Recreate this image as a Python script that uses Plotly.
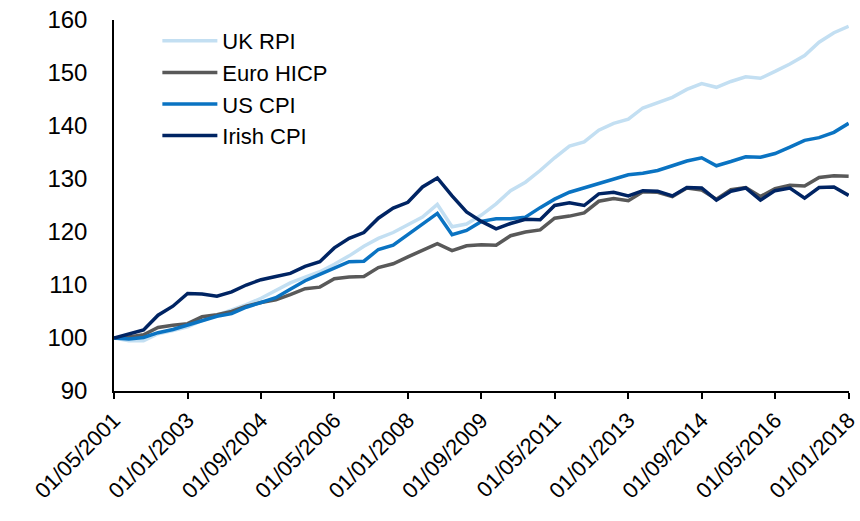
import pandas as pd
import plotly.graph_objects as go

# one reading every 4 months, May 2001 - Jan 2018
dates = pd.date_range("2001-05-01", "2018-01-01", freq="4MS")

uk_rpi = [100.0, 99.5, 99.5, 100.8, 101.4, 102.1, 103.3, 104.3, 105.2, 106.3,
          107.5, 109.0, 110.4, 111.5, 112.5, 113.9, 115.5, 117.3, 118.8, 119.9,
          121.4, 122.8, 125.2, 121.0, 121.5, 123.2, 125.3, 127.8, 129.4, 131.6,
          134.0, 136.2, 137.0, 139.2, 140.5, 141.3, 143.4, 144.4, 145.4, 146.9,
          148.0, 147.3, 148.4, 149.3, 149.0, 150.3, 151.7, 153.3, 155.8, 157.6,
          158.8]
euro_hicp = [100.0, 100.2, 100.6, 102.0, 102.4, 102.7, 104.0, 104.4, 105.0, 106.0,
             106.7, 107.2, 108.2, 109.3, 109.6, 111.2, 111.5, 111.6, 113.3, 114.0,
             115.3, 116.6, 117.8, 116.5, 117.4, 117.6, 117.5, 119.3, 120.0, 120.4,
             122.6, 123.0, 123.6, 125.8, 126.3, 125.9, 127.6, 127.5, 126.7, 128.3,
             127.9, 126.2, 128.0, 128.4, 126.7, 128.2, 128.8, 128.7, 130.3, 130.6,
             130.5]
us_cpi = [100.0, 99.8, 100.1, 101.0, 101.6, 102.4, 103.2, 104.1, 104.6, 105.8,
          106.7, 107.6, 109.2, 110.8, 112.0, 113.1, 114.4, 114.5, 116.7, 117.5,
          119.5, 121.6, 123.5, 119.5, 120.3, 122.0, 122.5, 122.5, 122.8, 124.6,
          126.2, 127.5, 128.3, 129.1, 130.0, 130.8, 131.1, 131.6, 132.5, 133.4,
          134.0, 132.5, 133.3, 134.2, 134.1, 134.8, 136.0, 137.3, 137.8, 138.8,
          140.5]
irish_cpi = [100.0, 100.8, 101.5, 104.3, 106.0, 108.4, 108.3, 107.9, 108.7, 110.0,
             111.0, 111.6, 112.2, 113.5, 114.4, 117.0, 118.8, 119.9, 122.6, 124.5,
             125.6, 128.5, 130.2, 126.8, 123.8, 122.0, 120.6, 121.6, 122.4, 122.3,
             125.0, 125.5, 125.0, 127.2, 127.5, 126.8, 127.8, 127.7, 126.8, 128.4,
             128.3, 126.0, 127.7, 128.3, 126.0, 127.8, 128.3, 126.4, 128.4, 128.5,
             126.9]

tick_dates = pd.date_range("2001-05-01", "2018-01-01", freq="20MS")
tick_text = [d.strftime("%d/%m/%Y") for d in tick_dates]

series = [("UK RPI", uk_rpi, "#c3dff2"),
          ("Euro HICP", euro_hicp, "#595959"),
          ("US CPI", us_cpi, "#0a73c2"),
          ("Irish CPI", irish_cpi, "#002463")]

fig = go.Figure()
for name, vals, col in series:
    fig.add_trace(go.Scatter(x=dates, y=vals, name=name, mode="lines",
                             line=dict(color=col, width=3.5)))

fig.update_layout(
    width=860, height=521,
    margin=dict(l=114, r=11, t=20, b=130),
    paper_bgcolor="white", plot_bgcolor="white",
    font=dict(family="Liberation Sans, Arial", size=24, color="black"),
    showlegend=True,
    legend=dict(x=0.059, y=1.0, xanchor="left", yanchor="top",
                bgcolor="rgba(0,0,0,0)", font=dict(size=22),
                tracegroupgap=0, itemwidth=55),
)
fig.update_xaxes(range=["2001-05-01", "2018-01-04"], tickvals=tick_dates,
                 ticktext=tick_text, tickangle=-45, tickfont=dict(size=22),
                 ticks="outside", ticklen=6, tickwidth=1.5, tickcolor="black",
                 showline=True, linecolor="black", linewidth=1.5, showgrid=False,
                 zeroline=False, automargin=False, ticklabeloverflow="allow")
fig.update_yaxes(range=[90, 160], dtick=10, tickfont=dict(size=24), showline=True,
                 linecolor="black", linewidth=1.5, showgrid=False, zeroline=False,
                 ticks="", ticklabelstandoff=20, automargin=False,
                 ticklabeloverflow="allow")

# drop the default 8px page margin so the figure fills the window
fig.write_html("out.html", config={"displayModeBar": False},
               post_script="document.body.style.margin='0';")
